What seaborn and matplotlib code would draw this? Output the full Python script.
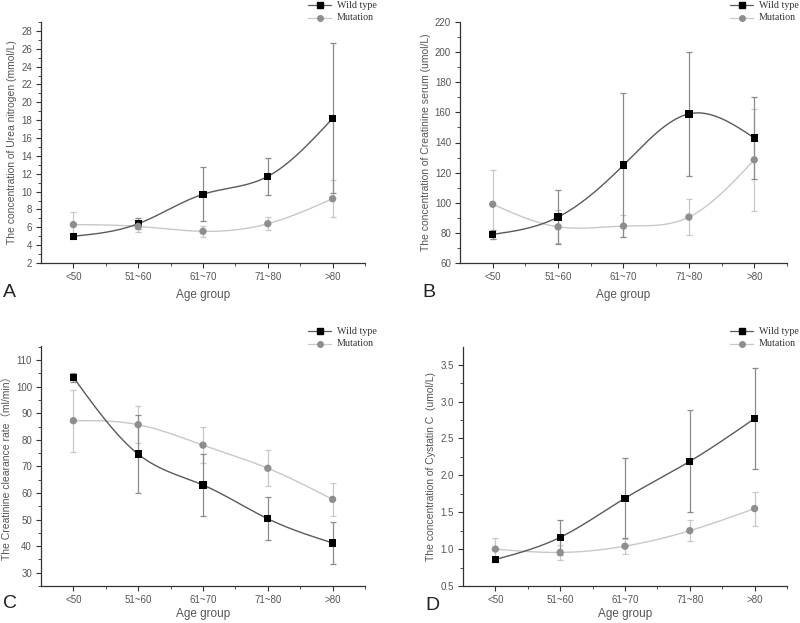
import numpy as np
import pandas as pd
import matplotlib
matplotlib.use("Agg")
import matplotlib.pyplot as plt
from matplotlib.ticker import MultipleLocator, FixedLocator, FormatStrFormatter
import seaborn as sns

sns.set_theme(style="ticks")
plt.rcParams['font.family'] = ['Liberation Sans', 'Noto Sans CJK SC', 'DejaVu Sans']

age_groups = ["<50", "51~60", "61~70", "71~80", ">80"]

# Panel A: Urea nitrogen
urea_wild = [5.0, 6.4, 9.7, 11.7, 18.2]
urea_wild_err = [0.35, 0.6, 3.05, 2.1, 8.4]
urea_mut = [6.3, 6.1, 5.55, 6.4, 9.2]
urea_mut_err = [1.4, 0.6, 0.65, 0.7, 2.1]

# Panel B: Creatinine serum
crea_wild = [79, 90.5, 125, 159, 143]
crea_wild_err = [3, 18, 48, 41, 27]
crea_mut = [99, 84, 84.5, 90.5, 128.5]
crea_mut_err = [23, 11, 7.5, 12, 34]

# Panel C: Creatinine clearance rate
ccr_wild = [103.5, 74.6, 63, 50.3, 41.2]
ccr_wild_err = [1.8, 14.6, 11.6, 8.0, 8.0]
ccr_mut = [87.2, 85.7, 78, 69.3, 57.6]
ccr_mut_err = [11.6, 7.0, 6.8, 6.8, 6.3]

# Panel D: Cystatin C
cys_wild = [0.86, 1.16, 1.69, 2.19, 2.77]
cys_wild_err = [0.03, 0.24, 0.54, 0.69, 0.69]
cys_mut = [1.0, 0.955, 1.04, 1.25, 1.55]
cys_mut_err = [0.15, 0.1, 0.1, 0.14, 0.23]

panels = [
    ("A", urea_wild, urea_wild_err, urea_mut, urea_mut_err,
     "The concentration of Urea nitrogen (mmol/L)", (2, 29), 2, 1),
    ("B", crea_wild, crea_wild_err, crea_mut, crea_mut_err,
     "The concentration of Creatinine serum (umol/L)", (60, 220), 20, 10),
    ("C", ccr_wild, ccr_wild_err, ccr_mut, ccr_mut_err,
     "The Creatinine clearance rate\uff08ml/min\uff09", (25, 115.3), 10, 5),
    ("D", cys_wild, cys_wild_err, cys_mut, cys_mut_err,
     "The concentration of Cystatin C  (umol/L)", (0.5, 3.74), 0.5, 0.25),
]

# axes rectangles in pixels (left, right, top, bottom), letter y, legend top y, xlabel pad
W, H = 800, 623
rects = [(41, 365, 22, 263, 293, 5, 5), (460, 787, 22, 263, 293, 5, 5),
         (41, 365, 346, 586, 604, 331, 2), (463, 787, 347, 586, 605, 331, 2)]

WILD_LINE = "#5a5a5a"
WILD_MARK = "#000000"
MUT_LINE = "#c8c8c8"
MUT_MARK = "#8e8e8e"


def natural_spline(x, y, n=200):
    x = np.asarray(x, float)
    y = np.asarray(y, float)
    k = len(x)
    h = np.diff(x)
    A = np.zeros((k, k))
    b = np.zeros(k)
    A[0, 0] = 1
    A[-1, -1] = 1
    for i in range(1, k - 1):
        A[i, i - 1] = h[i - 1]
        A[i, i] = 2 * (h[i - 1] + h[i])
        A[i, i + 1] = h[i]
        b[i] = 6 * ((y[i + 1] - y[i]) / h[i] - (y[i] - y[i - 1]) / h[i - 1])
    M = np.linalg.solve(A, b)
    xs = np.linspace(x[0], x[-1], n)
    ys = np.empty_like(xs)
    for j, xv in enumerate(xs):
        i = min(np.searchsorted(x, xv, side="right") - 1, k - 2)
        t1 = x[i + 1] - xv
        t0 = xv - x[i]
        ys[j] = (M[i] * t1 ** 3 + M[i + 1] * t0 ** 3) / (6 * h[i]) \
            + (y[i] / h[i] - M[i] * h[i] / 6) * t1 \
            + (y[i + 1] / h[i] - M[i + 1] * h[i] / 6) * t0
    return xs, ys


fig = plt.figure(figsize=(W / 100, H / 100), dpi=100)

for (letter, wv, we, mv, me, ylabel, ylim, major, minor), (l, r, t, b, ly, lgy, xpad) in zip(panels, rects):
    ax = fig.add_axes([l / W, 1 - b / H, (r - l) / W, (b - t) / H])
    x = np.arange(len(age_groups))
    df = pd.DataFrame({
        "pos": np.concatenate([x, x]),
        "value": wv + mv,
        "group": ["Wild type"] * 5 + ["Mutation"] * 5,
    })
    # error bars
    ax.errorbar(x, mv, yerr=me, fmt="none", ecolor=MUT_LINE, elinewidth=0.9,
                capsize=2.5, capthick=0.9, zorder=2)
    ax.errorbar(x, wv, yerr=we, fmt="none", ecolor="#8a8a8a", elinewidth=0.9,
                capsize=2.5, capthick=0.9, zorder=2)
    # smooth connecting curves
    sx, sy = natural_spline(x, mv)
    ax.plot(sx, sy, color=MUT_LINE, lw=1.0, zorder=3)
    sx, sy = natural_spline(x, wv)
    ax.plot(sx, sy, color=WILD_LINE, lw=1.0, zorder=3)
    # markers via seaborn
    sns.scatterplot(data=df, x="pos", y="value", hue="group", style="group",
                    hue_order=["Wild type", "Mutation"],
                    style_order=["Wild type", "Mutation"],
                    palette={"Wild type": WILD_MARK, "Mutation": MUT_MARK},
                    markers={"Wild type": "s", "Mutation": "o"},
                    s=28, linewidth=0, ax=ax, zorder=4, legend=False)

    ax.set_xlim(-0.5, 4.5)
    ax.set_ylim(*ylim)
    ax.set_xticks(x)
    ax.set_xticklabels(age_groups)
    ax.xaxis.set_minor_locator(FixedLocator([0.5, 1.5, 2.5, 3.5, 4.5]))
    ax.yaxis.set_major_locator(MultipleLocator(major))
    ax.yaxis.set_minor_locator(MultipleLocator(minor))
    sns.despine(ax=ax)
    for sp in ["left", "bottom"]:
        ax.spines[sp].set_color("#333333")
        ax.spines[sp].set_linewidth(0.9)
    ax.tick_params(axis="both", which="major", length=3.5, width=0.8,
                   colors="#333333", labelsize=7, labelcolor="#555555", pad=3)
    ax.tick_params(axis="both", which="minor", length=2, width=0.6, colors="#333333")
    ax.set_xlabel("Age group", fontsize=8.5, color="#555555", labelpad=xpad)
    ax.set_ylabel(ylabel, fontsize=7.5, color="#555555", labelpad=3)
    if letter == "D":
        ax.yaxis.set_major_formatter(FormatStrFormatter("%.1f"))

    # panel letter
    fig.text((l - 38) / W, 1 - ly / H, letter, fontsize=14, color="#222222",
             ha="left", va="center")

    # legend (outside the axes, top-right)
    lx0 = (r - 57) / W
    lx1 = (r - 34) / W
    ly0 = 1 - lgy / H
    ly1 = 1 - (lgy + 13) / H
    fig.lines.append(plt.Line2D([lx0, lx1], [ly0, ly0], transform=fig.transFigure,
                                color=WILD_LINE, lw=0.9))
    fig.lines.append(plt.Line2D([(lx0 + lx1) / 2], [ly0], transform=fig.transFigure,
                                color=WILD_MARK, marker="s", markersize=4, lw=0))
    fig.lines.append(plt.Line2D([lx0, lx1], [ly1, ly1], transform=fig.transFigure,
                                color=MUT_LINE, lw=0.9))
    fig.lines.append(plt.Line2D([(lx0 + lx1) / 2], [ly1], transform=fig.transFigure,
                                color=MUT_MARK, marker="o", markersize=4, lw=0))
    fig.text(lx1 + 6 / W, ly0, "Wild type", fontsize=7.2, family="Liberation Serif",
             color="#333333", va="center", ha="left")
    fig.text(lx1 + 6 / W, ly1, "Mutation", fontsize=7.2, family="Liberation Serif",
             color="#333333", va="center", ha="left")

fig.savefig("out.png", dpi=100)
